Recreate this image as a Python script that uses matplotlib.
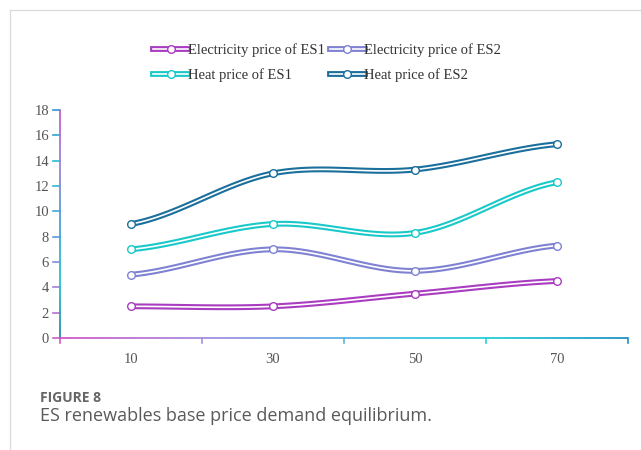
import numpy as np
import matplotlib.pyplot as plt
from matplotlib.lines import Line2D
from matplotlib.collections import LineCollection
from matplotlib.colors import LinearSegmentedColormap
from matplotlib.legend_handler import HandlerTuple

# price data per scenario
categories = ["10", "30", "50", "70"]
elec_es1 = [2.5, 2.5, 3.5, 4.5]
elec_es2 = [5.0, 7.0, 5.3, 7.3]
heat_es1 = [7.0, 9.0, 8.3, 12.3]
heat_es2 = [9.0, 13.0, 13.3, 15.3]

labels = ["Electricity price of ES1", "Electricity price of ES2",
          "Heat price of ES1", "Heat price of ES2"]
colors = ["#a93cc0", "#7f82d2", "#19c9c9", "#1a6f9c"]

serif = ["Liberation Serif", "DejaVu Serif"]


def smooth(xs, ys, n=40):
    """Catmull-Rom curve through the points, like spreadsheet smoothing."""
    xs = np.asarray(xs, float)
    ys = np.asarray(ys, float)
    px = np.concatenate([[2 * xs[0] - xs[1]], xs, [2 * xs[-1] - xs[-2]]])
    py = np.concatenate([[ys[0]], ys, [ys[-1]]])
    outx, outy = [], []
    for i in range(1, len(px) - 2):
        t = np.linspace(0, 1, n)
        for p, out in ((px, outx), (py, outy)):
            p0, p1, p2, p3 = p[i - 1], p[i], p[i + 1], p[i + 2]
            out.extend(0.5 * ((2 * p1) + (-p0 + p2) * t
                              + (2 * p0 - 5 * p1 + 4 * p2 - p3) * t ** 2
                              + (-p0 + 3 * p1 - 3 * p2 + p3) * t ** 3))
    return np.array(outx), np.array(outy)


fig = plt.figure(figsize=(6.41, 4.5), dpi=100)

# page frame lines
fig.add_artist(Line2D([10 / 641, 10 / 641], [0, 1 - 10 / 450],
                      transform=fig.transFigure, color="#dadada", lw=0.9))
fig.add_artist(Line2D([10 / 641, 1], [1 - 10 / 450, 1 - 10 / 450],
                      transform=fig.transFigure, color="#dadada", lw=0.9))

ax = fig.add_axes([60 / 641, 112 / 450, 568 / 641, 228 / 450])

x = np.arange(len(categories))
series = [elec_es1, elec_es2, heat_es1, heat_es2]
handles = []
for vals, col, lab in zip(series, colors, labels):
    sx, sy = smooth(x, vals)
    ax.plot(sx, sy, color=col, lw=4.2, solid_capstyle="round", zorder=3)
    ax.plot(sx, sy, color="white", lw=1.2, solid_capstyle="round", zorder=4)
    ax.plot(x, vals, "o", ms=5.5, mfc="white", mec=col, mew=1.0, zorder=5)
    h = (Line2D([], [], color=col, lw=4.2),
         Line2D([], [], color="white", lw=1.2),
         Line2D([], [], ls="", marker="o", ms=5.5, mfc="white", mec=col, mew=1.0))
    handles.append(h)

ax.set_xlim(-0.5, len(categories) - 0.5)
ax.set_ylim(0, 18)
ax.set_yticks(range(0, 19, 2))
ax.set_xticks(x)
ax.set_xticklabels(categories)
for s in ax.spines.values():
    s.set_visible(False)
ax.tick_params(axis="x", length=0, pad=11, labelsize=10.5, labelcolor="#555555")
ax.tick_params(axis="y", length=0, pad=8, labelsize=10.5, labelcolor="#555555")
for t in ax.get_xticklabels() + ax.get_yticklabels():
    t.set_fontfamily(serif)

# gradient axis lines
n = 200
ycmap = LinearSegmentedColormap.from_list(
    "yax", ["#2a8aa8", "#22c4cf", "#4aa0d8", "#9a86d8", "#c85cc8"])
xcmap = LinearSegmentedColormap.from_list(
    "xax", ["#d058c8", "#a68ee0", "#5ab4e4", "#22d0d8", "#2290c0"])
ty = np.linspace(0, 1, n + 1)
segs = [[(0, ty[i]), (0, ty[i + 1])] for i in range(n)]
ax.add_collection(LineCollection(segs, colors=ycmap(ty[:-1]), lw=1.3,
                                 transform=ax.transAxes, clip_on=False, zorder=6))
segs = [[(ty[i], 0), (ty[i + 1], 0)] for i in range(n)]
ax.add_collection(LineCollection(segs, colors=xcmap(ty[:-1]), lw=1.3,
                                 transform=ax.transAxes, clip_on=False, zorder=6))

# tick marks in matching colours
tcmap = LinearSegmentedColormap.from_list(
    "ytk", ["#c85cc8", "#9a86d8", "#4aa0d8", "#22c4cf", "#3a90d0"])
for v in ax.get_yticks():
    f = v / 18
    ax.plot([-0.012, 0], [f, f], color=tcmap(f), lw=1.2,
            transform=ax.transAxes, clip_on=False)
for b in np.arange(-0.5, len(categories), 1.0):
    f = (b + 0.5) / len(categories)
    ax.plot([f, f], [-0.02, 0], color=xcmap(f), lw=1.2,
            transform=ax.transAxes, clip_on=False)

# legend: column-major fill, so interleave to get the rows right
order = [0, 2, 1, 3]
leg = fig.legend([handles[i] for i in order], [labels[i] for i in order],
                 handler_map={tuple: HandlerTuple(ndivide=1, pad=0)},
                 ncol=2, loc="upper left", bbox_to_anchor=(140 / 641, 1 - 30 / 450),
                 frameon=False, handlelength=2.4, handletextpad=0.0,
                 columnspacing=0.3, labelspacing=0.75,
                 prop={"family": serif, "size": 10.5})
for t in leg.get_texts():
    t.set_color("#333333")

fig.text(40 / 641, 1 - 398 / 450, "FIGURE 8", fontsize=10, fontweight="bold",
         color="#666666", family=["Open Sans", "DejaVu Sans"], va="center")
fig.text(40 / 641, 1 - 416 / 450, "ES renewables base price demand equilibrium.",
         fontsize=13, color="#5a5a5a", family=["Open Sans", "DejaVu Sans"], va="center")

fig.savefig("out.png", dpi=100)
